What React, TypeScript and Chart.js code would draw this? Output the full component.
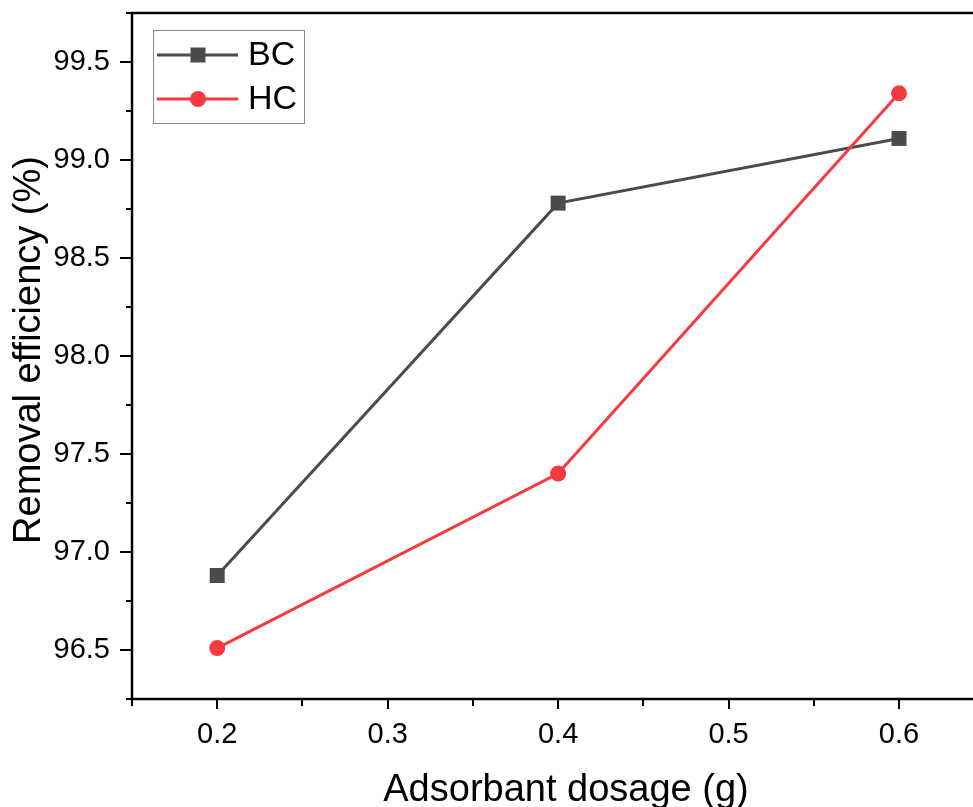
import React, { useEffect, useRef } from "react";
import { Chart, registerables } from "chart.js";

Chart.register(...registerables);

// Adsorbent dosage (g) and removal efficiency (%) for the two chars
const dosage = [0.2, 0.4, 0.6];
const bcEfficiency = [96.88, 98.78, 99.11];
const hcEfficiency = [96.51, 97.4, 99.34];

const seriesNames = ["BC", "HC"];
const xTickValues = [0.2, 0.3, 0.4, 0.5, 0.6];
const yTickValues = [96.5, 97.0, 97.5, 98.0, 98.5, 99.0, 99.5];

const X_MIN = 0.15;
const X_MAX = 0.6434;
const Y_MIN = 96.25;
const Y_MAX = 99.75;

const FONT = "Arial, 'Liberation Sans', sans-serif";
const BC_COLOR = "#4b4b4b";
const HC_COLOR = "#f53b3f";

// Frame, outward ticks, axis titles and the inset legend
const framePlugin = {
  id: "originFrame",
  afterDraw(chart: any) {
    const { ctx, chartArea } = chart;
    const xs = chart.scales.x;
    const ys = chart.scales.y;
    const { left, right, top, bottom } = chartArea;
    ctx.save();
    ctx.strokeStyle = "#000";
    ctx.lineWidth = 2.5;
    ctx.lineCap = "butt";

    ctx.beginPath();
    ctx.moveTo(left, top);
    ctx.lineTo(right, top);
    ctx.moveTo(left, top - 1.25);
    ctx.lineTo(left, bottom + 1.25);
    ctx.moveTo(left - 1.25, bottom);
    ctx.lineTo(right, bottom);
    ctx.stroke();

    // x ticks (major every 0.1, minor every 0.05)
    ctx.lineWidth = 2;
    ctx.beginPath();
    for (let i = 0; i <= 20; i++) {
      const v = Math.round((X_MIN + i * 0.05) * 1000) / 1000;
      if (v > X_MAX) break;
      const px = Math.round(xs.getPixelForValue(v));
      const major = Math.abs(v * 10 - Math.round(v * 10)) < 1e-6;
      ctx.moveTo(px, bottom);
      ctx.lineTo(px, bottom + (major ? 10 : 7));
    }
    // y ticks (major every 0.5, minor every 0.25)
    for (let i = 0; i <= 14; i++) {
      const v = Y_MIN + i * 0.25;
      if (v > Y_MAX + 1e-9) break;
      const py = Math.round(ys.getPixelForValue(v));
      const major = Math.abs(v * 2 - Math.round(v * 2)) < 1e-6;
      ctx.moveTo(left, py);
      ctx.lineTo(left - (major ? 12 : 6), py);
    }
    ctx.stroke();

    // axis titles
    ctx.fillStyle = "#000";
    ctx.font = `38px ${FONT}`;
    ctx.textAlign = "center";
    ctx.textBaseline = "alphabetic";
    ctx.fillText("Adsorbant dosage (g)", 566, 801);
    ctx.save();
    ctx.translate(40, 350);
    ctx.rotate(-Math.PI / 2);
    ctx.fillText("Removal efficiency (%)", 0, 0);
    ctx.restore();

    // legend
    ctx.strokeStyle = "#8a8a8a";
    ctx.lineWidth = 1;
    ctx.strokeRect(153.5, 30.5, 151, 93);
    const rows = [
      { name: seriesNames[0], color: BC_COLOR, y: 55, square: true },
      { name: seriesNames[1], color: HC_COLOR, y: 99, square: false },
    ];
    rows.forEach((r) => {
      ctx.strokeStyle = r.color;
      ctx.lineWidth = 3;
      ctx.beginPath();
      ctx.moveTo(157, r.y);
      ctx.lineTo(238, r.y);
      ctx.stroke();
      ctx.fillStyle = r.color;
      if (r.square) {
        ctx.fillRect(198 - 7.5, r.y - 7.5, 15, 15);
      } else {
        ctx.beginPath();
        ctx.arc(198, r.y, 8, 0, Math.PI * 2);
        ctx.fill();
      }
      ctx.fillStyle = "#000";
      ctx.font = `34px ${FONT}`;
      ctx.textAlign = "left";
      ctx.textBaseline = "middle";
      ctx.fillText(r.name, 248, r.y + 1);
    });
    ctx.restore();
  },
};

export default function App() {
  const canvasRef = useRef<HTMLCanvasElement | null>(null);

  useEffect(() => {
    if (!canvasRef.current) return;
    const chart = new Chart(canvasRef.current, {
      type: "line",
      data: {
        datasets: [
          {
            label: seriesNames[0],
            data: dosage.map((x, i) => ({ x, y: bcEfficiency[i] })),
            borderColor: BC_COLOR,
            backgroundColor: BC_COLOR,
            borderWidth: 3,
            pointStyle: "rect",
            pointRadius: 10.6,
            pointBorderWidth: 0,
            tension: 0,
            order: 2,
          },
          {
            label: seriesNames[1],
            data: dosage.map((x, i) => ({ x, y: hcEfficiency[i] })),
            borderColor: HC_COLOR,
            backgroundColor: HC_COLOR,
            borderWidth: 3,
            pointStyle: "circle",
            pointRadius: 8,
            pointBorderWidth: 0,
            tension: 0,
            order: 1,
          },
        ],
      },
      options: {
        animation: false,
        responsive: false,
        maintainAspectRatio: false,
        layout: { autoPadding: false, padding: { top: 13, right: 0, left: 0, bottom: 0 } },
        plugins: {
          legend: { display: false },
          tooltip: { enabled: false },
        },
        scales: {
          x: {
            type: "linear",
            min: X_MIN,
            max: X_MAX,
            grid: { display: false, drawTicks: false },
            border: { display: false },
            afterBuildTicks: (s: any) => {
              s.ticks = xTickValues.map((value) => ({ value }));
            },
            afterFit: (s: any) => {
              s.height = 108;
              s.paddingLeft = 0;
              s.paddingRight = 0;
            },
            ticks: {
              color: "#000",
              font: { family: FONT, size: 29 },
              padding: 19,
              maxRotation: 0,
              autoSkip: false,
              callback: (v: any) => String(Math.round(Number(v) * 10) / 10),
            },
          },
          y: {
            type: "linear",
            min: Y_MIN,
            max: Y_MAX,
            grid: { display: false, drawTicks: false },
            border: { display: false },
            afterBuildTicks: (s: any) => {
              s.ticks = yTickValues.map((value) => ({ value }));
            },
            afterFit: (s: any) => {
              s.width = 132;
              s.paddingTop = 0;
              s.paddingBottom = 0;
            },
            ticks: {
              color: "#000",
              font: { family: FONT, size: 29 },
              padding: 22,
              autoSkip: false,
              callback: (v: any) => Number(v).toFixed(1),
            },
          },
        },
      },
      plugins: [framePlugin],
    });
    return () => chart.destroy();
  }, []);

  return (
    <div style={{ position: "absolute", left: 0, top: 0, width: 973, height: 807, background: "#fff" }}>
      <canvas ref={canvasRef} width={973} height={807} style={{ display: "block", width: 973, height: 807 }} />
    </div>
  );
}
